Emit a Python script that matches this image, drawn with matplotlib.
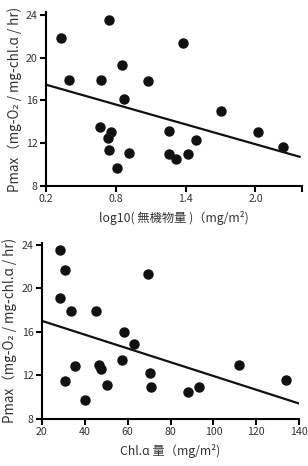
import numpy as np
import matplotlib
matplotlib.use("Agg")
import matplotlib.pyplot as plt

plt.rcParams['font.family'] = ['Noto Sans CJK JP', 'DejaVu Sans']

# --- 上段: log10(無機物量) vs Pmax ---
inorg_x = [0.33, 0.40, 0.74, 0.67, 0.85, 0.87, 1.08, 0.66, 0.76, 0.73, 0.74, 0.81,
           0.91, 1.26, 1.26, 1.32, 1.38, 1.42, 1.49, 1.70, 2.02, 2.24]
inorg_y = [21.8, 17.9, 23.5, 17.9, 19.3, 16.1, 17.8, 13.5, 13.0, 12.5, 11.4, 9.7,
           11.1, 13.1, 11.0, 10.5, 21.4, 11.0, 12.3, 15.0, 13.0, 11.6]
inorg_fit = (-3.09, 18.08)   # slope, intercept

# --- 下段: Chl.a 量 vs Pmax ---
chl_x = [28.5, 30.9, 28.5, 33.7, 45.5, 69.4, 58.5, 62.8, 35.7, 30.9, 40.4, 46.7,
         47.7, 50.6, 57.3, 70.4, 70.7, 88.2, 93.4, 111.9, 133.9]
chl_y = [23.5, 21.7, 19.1, 17.9, 17.9, 21.3, 16.0, 14.9, 12.9, 11.5, 9.7, 13.0,
         12.6, 11.1, 13.4, 12.2, 10.9, 10.5, 10.9, 13.0, 11.6]
chl_fit = (-0.0634, 18.29)

ylabel = "Pmax（mg-O\u2082 / mg-chl.\u0251 / hr)"
tick_col = '#333333'

fig = plt.figure(figsize=(3.08, 4.66), dpi=100)
ax1 = fig.add_axes([0.1494, 0.6009, 0.8311, 0.3733])
ax2 = fig.add_axes([0.1354, 0.1009, 0.8364, 0.3783])


def style(ax):
    for s in ['top', 'right']:
        ax.spines[s].set_visible(False)
    for s in ['left', 'bottom']:
        ax.spines[s].set_linewidth(1.5)
    ax.tick_params(direction='out', length=4, width=1.5, labelsize=7.6,
                   labelcolor=tick_col, pad=2)
    ax.set_yticks([8, 12, 16, 20, 24])


# 上段
ax1.plot(inorg_x, inorg_y, 'o', color='#111111', ms=6.5, zorder=3)
xx = np.array([0.2, 2.38])
ax1.plot(xx, inorg_fit[0] * xx + inorg_fit[1], color='#111111', lw=1.6)
ax1.set_xlim(0.2, 2.4)
ax1.set_ylim(8, 24.25)
style(ax1)
ax1.set_xticks([0.2, 0.8, 1.4, 2.0, 2.4])
ax1.set_xticklabels(['0.2', '0.8', '1.4', '2.0', ''])
ax1.set_xlabel("log10( 無機物量 )（mg/m\u00b2)", fontsize=8.8, color=tick_col, labelpad=5)
ax1.set_ylabel(ylabel, fontsize=9.7, color=tick_col, labelpad=3)

# 下段
ax2.plot(chl_x, chl_y, 'o', color='#111111', ms=6.5, zorder=3)
xx = np.array([20, 140])
ax2.plot(xx, chl_fit[0] * xx + chl_fit[1], color='#111111', lw=1.6)
ax2.set_xlim(20, 140)
ax2.set_ylim(8, 24.2)
style(ax2)
ax2.set_xticks([20, 40, 60, 80, 100, 120, 140])
ax2.set_xlabel("Chl.\u0251 量（mg/m\u00b2)", fontsize=8.8, color=tick_col, labelpad=5)
ax2.set_ylabel(ylabel, fontsize=9.7, color=tick_col, labelpad=3)

fig.savefig("out.png", dpi=100)
